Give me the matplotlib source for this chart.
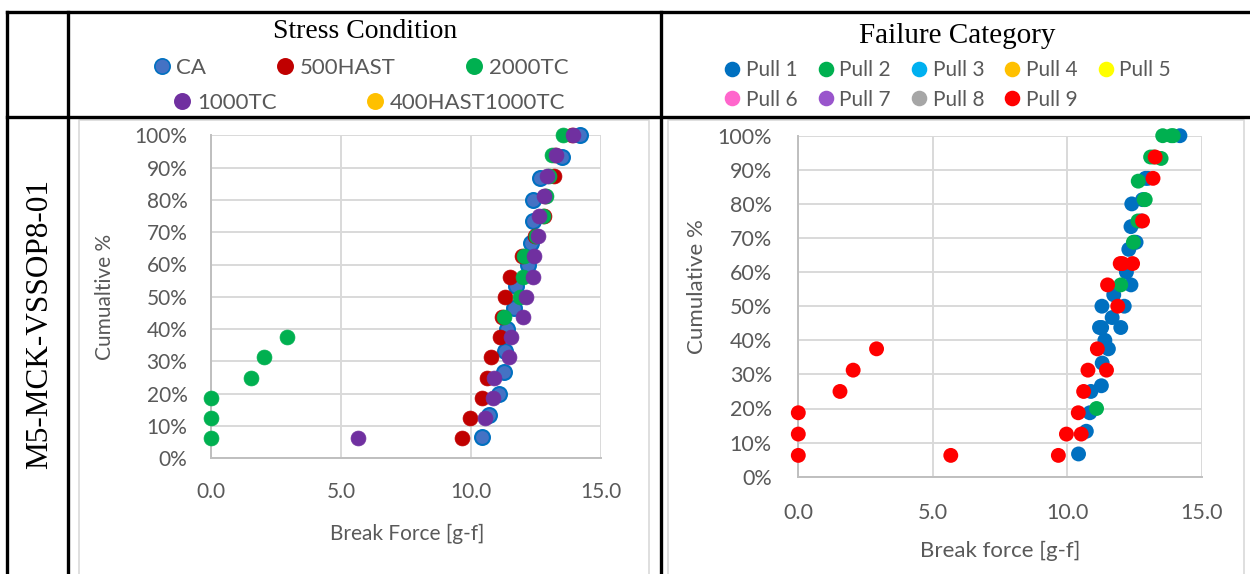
import matplotlib
matplotlib.use("Agg")
import matplotlib.pyplot as plt
from matplotlib.lines import Line2D
from matplotlib.ticker import PercentFormatter, FormatStrFormatter

# ---------------- data ----------------
cum16 = [0.0625, 0.125, 0.1875, 0.25, 0.3125, 0.375, 0.4375, 0.5,
         0.5625, 0.625, 0.6875, 0.75, 0.8125, 0.875, 0.9375, 1.0]
cum15 = [0.0667, 0.1333, 0.2, 0.2667, 0.3333, 0.4, 0.4667, 0.5333,
         0.6, 0.6667, 0.7333, 0.8, 0.8667, 0.9333, 1.0]

ca_force = [10.42, 10.71, 11.09, 11.27, 11.30, 11.40, 11.67, 11.73,
            12.20, 12.29, 12.37, 12.40, 12.64, 13.49, 14.19]
hast500_force = [9.67, 9.97, 10.41, 10.61, 10.77, 11.12, 11.20, 11.29,
                 11.50, 11.97, 12.46, 12.80, 12.86, 13.19, 13.22, 13.87]
tc2000_force = [0.0, 0.0, 0.0, 1.55, 2.04, 2.91, 11.28, 11.88,
                11.99, 12.05, 12.50, 12.75, 12.90, 13.00, 13.10, 13.55]
tc1000_force = [5.67, 10.52, 10.84, 10.88, 11.46, 11.53, 11.99, 12.12,
                12.37, 12.43, 12.56, 12.63, 12.80, 12.91, 13.27, 13.94]
hast400tc1000_force = []

# failure category (pull number) of every point
ca_pull = [1, 1, 2, 1, 1, 1, 1, 1, 1, 1, 1, 1, 2, 2, 1]
hast500_pull = [9, 9, 9, 9, 9, 9, 1, 1, 9, 9, 2, 9, 2, 9, 2, 2]
tc2000_pull = [9, 9, 9, 9, 9, 9, 1, 9, 2, 9, 1, 1, 2, 1, 2, 2]
tc1000_pull = [9, 9, 1, 1, 9, 1, 1, 1, 1, 9, 1, 2, 1, 1, 9, 2]

stress_names = ["CA", "500HAST", "2000TC", "1000TC", "400HAST1000TC"]
stress_colors = ["#4472C4", "#C00000", "#00B050", "#7030A0", "#FFC000"]
stress_edges = ["#0070C0", "#C00000", "#00B050", "#7030A0", "#FFC000"]

pull_names = ["Pull 1", "Pull 2", "Pull 3", "Pull 4", "Pull 5",
              "Pull 6", "Pull 7", "Pull 8", "Pull 9"]
pull_colors = ["#0070C0", "#00B050", "#00B0F0", "#FFC000", "#FFFF00",
               "#FF66CC", "#9955CC", "#A6A6A6", "#FF0000"]

x_ticks = [0, 5, 10, 15]
y_ticks = [0, 0.1, 0.2, 0.3, 0.4, 0.5, 0.6, 0.7, 0.8, 0.9, 1.0]

# ---------------- layout ----------------
W, H = 1250, 574
SANS = "Lato"
SERIF = "Liberation Serif"
TXT = "#595959"
GRID = "#D9D9D9"

fig = plt.figure(figsize=(W / 100, H / 100), dpi=100)


def box(x0, y0, x1, y1):
    return [x0 / W, 1 - y1 / H, (x1 - x0) / W, (y1 - y0) / H]


def fx(x):
    return x / W


def fy(y):
    return 1 - y / H


# background: table lines and chart borders
bg = fig.add_axes([0, 0, 1, 1], zorder=-5)
bg.set_xlim(0, W)
bg.set_ylim(H, 0)
bg.axis("off")
for (x0, y0, x1, y1) in [(79, 120, 649, 580), (668, 120, 1244, 580)]:
    bg.plot([x0, x1, x1, x0, x0], [y1, y1, y0, y0, y1], color="#D9D9D9", lw=1.2)
lw_t = 2.4
bg.plot([7, W], [12, 12], color="black", lw=lw_t)
bg.plot([7, W], [117, 117], color="black", lw=lw_t)
for xv in [7, 68, 661]:
    bg.plot([xv, xv], [12, H], color="black", lw=lw_t)

# headers
fig.text(fx(365), fy(31), "Stress Condition", family=SERIF, fontsize=20,
         ha="center", va="center")
fig.text(fx(957), fy(36), "Failure Category", family=SERIF, fontsize=21,
         ha="center", va="center")
fig.text(fx(40), fy(324), "M5-MCK-VSSOP8-01", family=SERIF, fontsize=22.5,
         ha="center", va="center", rotation=90)


def style_axes(ax, fs, pad):
    ax.set_xlim(0, 15)
    ax.set_ylim(0, 1)
    ax.set_xticks(x_ticks)
    ax.set_yticks(y_ticks)
    ax.xaxis.set_major_formatter(FormatStrFormatter("%.1f"))
    ax.yaxis.set_major_formatter(PercentFormatter(1.0, decimals=0))
    ax.grid(True, color=GRID, lw=1.4, zorder=0)
    ax.set_axisbelow(True)
    for s in ["top", "right"]:
        ax.spines[s].set_visible(False)
    for s in ["left", "bottom"]:
        ax.spines[s].set_color("#BFBFBF")
        ax.spines[s].set_linewidth(1.4)
    ax.tick_params(length=0, labelsize=fs, labelcolor=TXT, pad=pad)
    for lab in ax.get_xticklabels() + ax.get_yticklabels():
        lab.set_family(SANS)
    ax.patch.set_alpha(0)


# ---------------- left chart ----------------
axL = fig.add_axes(box(211, 135.3, 601, 458.3))
style_axes(axL, 15, 17)
left_series = [(ca_force, cum15), (hast500_force, cum16), (tc2000_force, cum16),
               (tc1000_force, cum16), (hast400tc1000_force, [])]
for i, (xs, ys) in enumerate(left_series):
    if not xs:
        continue
    axL.scatter(xs, ys, s=115, color=stress_colors[i], edgecolors=stress_edges[i],
                linewidths=1.5 if i == 0 else 0.5, zorder=3 + i, clip_on=False)
fig.text(fx(105), fy(297), "Cumualtive %", family=SANS, fontsize=15, color=TXT,
         ha="center", va="center", rotation=90)
fig.text(fx(407), fy(534), "Break Force [g-f]", family=SANS, fontsize=15, color=TXT,
         ha="center", va="center")


# left legend (two rows)
def handle(fc, ec, ms):
    return Line2D([], [], ls="", marker="o", markersize=ms, markerfacecolor=fc,
                  markeredgecolor=ec, markeredgewidth=1.2)


row1 = [handle(stress_colors[i], stress_edges[i], 11) for i in range(3)]
row2 = [handle(stress_colors[i], stress_edges[i], 11) for i in range(3, 5)]
lg1 = fig.legend(row1, stress_names[:3], loc="center", bbox_to_anchor=(fx(361), fy(68)),
                 ncol=3, frameon=False, handlelength=0.7, handletextpad=0.3,
                 columnspacing=3.2, borderpad=0, borderaxespad=0,
                 prop={"family": SANS, "size": 16})
lg2 = fig.legend(row2, stress_names[3:], loc="center", bbox_to_anchor=(fx(370), fy(103)),
                 ncol=2, frameon=False, handlelength=0.7, handletextpad=0.3,
                 columnspacing=4.1, borderpad=0, borderaxespad=0,
                 prop={"family": SANS, "size": 16})
for lg in (lg1, lg2):
    for t in lg.get_texts():
        t.set_color(TXT)

# ---------------- right chart ----------------
axR = fig.add_axes(box(798.3, 135.7, 1201.7, 476.7))
style_axes(axR, 15.5, 19)
groups = [(ca_force, cum15, ca_pull), (hast500_force, cum16, hast500_pull),
          (tc2000_force, cum16, tc2000_pull), (tc1000_force, cum16, tc1000_pull)]
for p in range(1, 10):
    xs, ys = [], []
    for fvals, cvals, pvals in groups:
        for f, c, q in zip(fvals, cvals, pvals):
            if q == p:
                xs.append(f)
                ys.append(c)
    if not xs:
        continue
    axR.scatter(xs, ys, s=115, color=pull_colors[p - 1], edgecolors="none",
                zorder=3 + p, clip_on=False)
fig.text(fx(697), fy(287), "Cumulative %", family=SANS, fontsize=16, color=TXT,
         ha="center", va="center", rotation=90)
fig.text(fx(1000), fy(551), "Break force [g-f]", family=SANS, fontsize=16, color=TXT,
         ha="center", va="center")

order = [0, 5, 1, 6, 2, 7, 3, 8, 4]
ph = [handle(pull_colors[i], pull_colors[i], 10) for i in order]
pl = [pull_names[i] for i in order]
lgR = fig.legend(ph, pl, loc="center", bbox_to_anchor=(fx(948), fy(85)),
                 ncol=5, frameon=False, handlelength=0.7, handletextpad=0.3,
                 columnspacing=1.0, borderpad=0, borderaxespad=0, labelspacing=0.45,
                 prop={"family": SANS, "size": 15})
for t in lgR.get_texts():
    t.set_color(TXT)

fig.savefig("out.png", dpi=100)
